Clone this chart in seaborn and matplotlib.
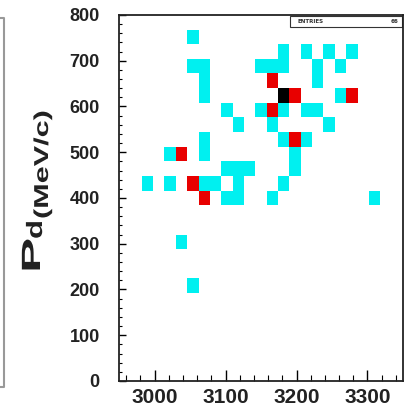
import matplotlib
matplotlib.use("Agg")
import pandas as pd
import matplotlib.pyplot as plt
from matplotlib.colors import ListedColormap
from matplotlib.patches import Rectangle
from matplotlib.lines import Line2D
from matplotlib.ticker import MultipleLocator
from matplotlib.patheffects import AbstractPathEffect
from matplotlib.transforms import Affine2D
import seaborn as sns

# Filled bins of the 2D histogram (bin centres) and their contents
mass = [3054,
        3182, 3214, 3246, 3278,
        3054, 3070, 3150, 3166, 3182, 3230, 3262,
        3070, 3166, 3230,
        3070, 3182, 3198, 3262, 3278,
        3102, 3150, 3166, 3182, 3214, 3230,
        3118, 3166, 3246,
        3070, 3182, 3198, 3214,
        3022, 3038, 3070, 3198,
        3102, 3118, 3134, 3198,
        2990, 3022, 3054, 3070, 3086, 3118, 3182,
        3070, 3102, 3118, 3166, 3310,
        3038,
        3054]
p_d = [752,
       720, 720, 720, 720,
       688, 688, 688, 688, 688, 688, 688,
       656, 656, 656,
       624, 624, 624, 624, 624,
       592, 592, 592, 592, 592, 592,
       560, 560, 560,
       528, 528, 528, 528,
       496, 496, 496, 496,
       464, 464, 464, 464,
       432, 432, 432, 432, 432, 432, 432,
       400, 400, 400, 400, 400,
       304,
       208]
counts = [1,
          1, 1, 1, 1,
          1, 1, 1, 1, 1, 1, 1,
          1, 2, 1,
          1, 3, 2, 1, 2,
          1, 1, 2, 1, 1, 1,
          1, 1, 1,
          1, 1, 2, 1,
          1, 2, 1, 1,
          1, 1, 1, 1,
          1, 1, 2, 1, 1, 1, 1,
          2, 1, 1, 1, 1,
          1,
          1]
entries = 66

df = pd.DataFrame({"mass": mass, "p_d": p_d, "n": counts})


# the axis title in the original uses a wide font: stretch glyphs along the text
class Stretch(AbstractPathEffect):
    def __init__(self, factor):
        super().__init__()
        self.factor = factor

    def draw_path(self, renderer, gc, tpath, affine, rgbFace=None):
        renderer.draw_path(gc, tpath, Affine2D().scale(self.factor, 1) + affine, rgbFace)


fig = plt.figure(figsize=(4.05, 4.09), dpi=100)
ax = fig.add_axes([0.294, 0.0685, 0.701, 0.895])

cmap = ListedColormap(["#00f0f0", "#e80000", "#000000"])
sns.histplot(data=df, x="mass", y="p_d", weights="n", bins=25,
             binrange=((2950, 3350), (0, 800)), cmap=cmap,
             vmin=0.5, vmax=3.5, linewidth=0, ax=ax)

ax.set_xlim(2950, 3350)
ax.set_ylim(0, 800)
ax.set_xlabel("")
ax.set_ylabel("")
ax.xaxis.set_major_locator(MultipleLocator(100))
ax.xaxis.set_minor_locator(MultipleLocator(20))
ax.yaxis.set_major_locator(MultipleLocator(100))
ax.yaxis.set_minor_locator(MultipleLocator(20))
ax.tick_params(axis="x", which="major", direction="in", length=8, width=1, pad=5)
ax.tick_params(axis="x", which="minor", direction="in", length=4, width=0.8)
ax.tick_params(axis="y", which="major", direction="in", length=5, width=1, pad=14)
ax.tick_params(axis="y", which="minor", direction="in", length=2.5, width=0.8)
for lab in ax.get_xticklabels():
    lab.set_fontsize(15)
    lab.set_fontweight("bold")
    lab.set_fontfamily("Liberation Sans")
    lab.set_color("#222222")
for lab in ax.get_yticklabels():
    lab.set_fontsize(13)
    lab.set_fontweight("bold")
    lab.set_fontfamily("Liberation Sans")
    lab.set_color("#222222")
for s in ax.spines.values():
    s.set_linewidth(1.3)
    s.set_color("#222222")

# stats box
ax.add_patch(Rectangle((0.602, 0.968), 0.396, 0.028, transform=ax.transAxes,
                       facecolor="white", edgecolor="#333333", linewidth=0.8))
ax.text(0.63, 0.982, "ENTRIES", transform=ax.transAxes, fontsize=4,
        fontweight="bold", va="center", color="#333333")
ax.text(0.985, 0.982, str(entries), transform=ax.transAxes, fontsize=4,
        fontweight="bold", va="center", ha="right", color="#333333")

# y axis title, placed by baseline start (pixels from the top-left)
title_kw = dict(rotation=90, rotation_mode="anchor", ha="left", va="baseline",
                fontweight="bold", family="Liberation Sans", color="#222222")
fig.text(40 / 405, 1 - 273 / 409, "P", fontsize=19,
         path_effects=[Stretch(2.0)], **title_kw)
fig.text(42 / 405, 1 - 239 / 409, "d", fontsize=16,
         path_effects=[Stretch(1.4)], **title_kw)
fig.text(48 / 405, 1 - 219 / 409, "(MeV/c)", fontsize=14.5,
         path_effects=[Stretch(1.52)], **title_kw)

# edge of the neighbouring panel
fig.add_artist(Line2D([0, 4 / 405, 4 / 405, 0], [1 - 18 / 409, 1 - 18 / 409, 1 - 387 / 409, 1 - 387 / 409],
                      transform=fig.transFigure, color="#999999", linewidth=1.5))

fig.savefig("out.png", dpi=100)
